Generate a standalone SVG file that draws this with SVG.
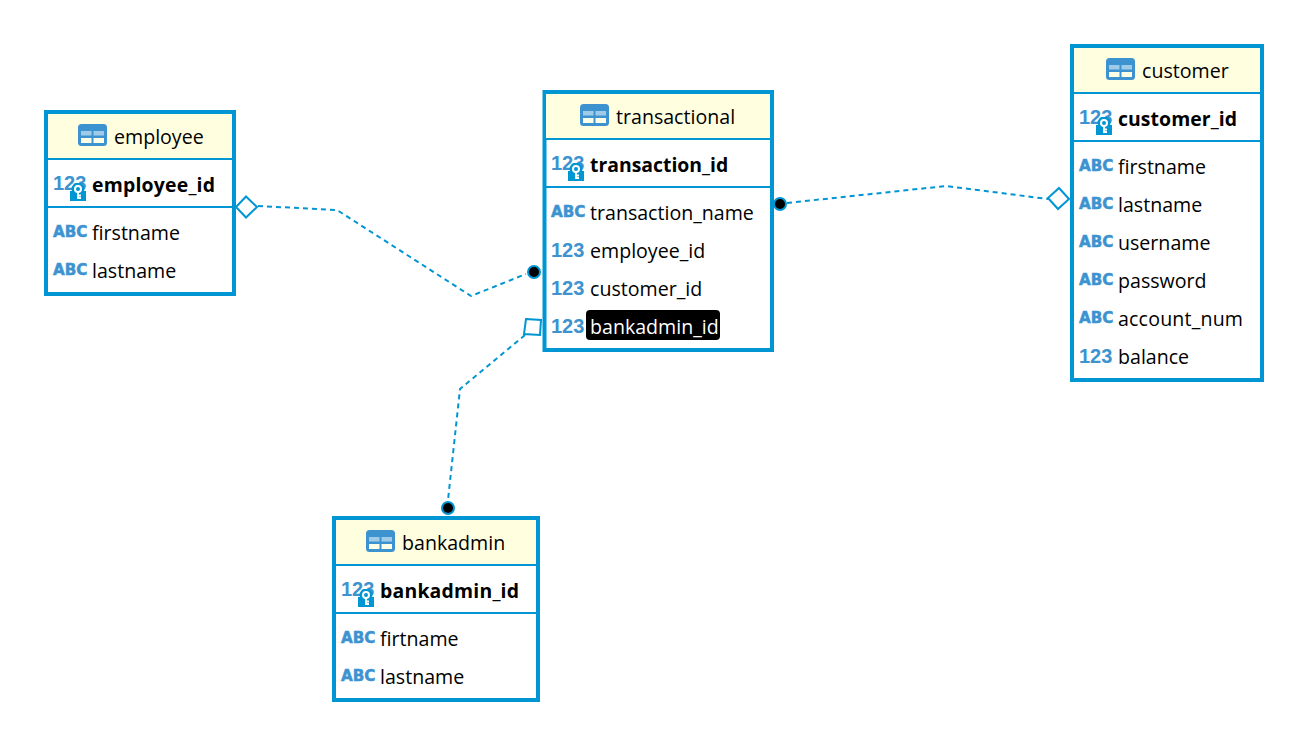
<svg xmlns="http://www.w3.org/2000/svg" xmlns:xlink="http://www.w3.org/1999/xlink" width="1300" height="738" viewBox="0 0 1300 738">
<style>
text{font-family:"Open Sans","Noto Sans","Liberation Sans",sans-serif;font-size:19.6px;fill:#000}
.box{fill:#fff;stroke:#0095d3;stroke-width:4}
.hd{fill:#ffffe0}
.div{stroke:#0095d3;stroke-width:2;fill:none}
text.pk{font-weight:700;font-size:19.4px}
text.ty{font-family:"Liberation Sans",sans-serif;font-weight:700;font-size:20px;fill:#3d92d0}
text.abc{font-family:"DejaVu Sans",sans-serif;font-weight:700;font-size:15.200px;fill:#3d92d0;stroke:#3d92d0;stroke-width:.5}
.conn{fill:none;stroke:#0095d3;stroke-width:2;stroke-dasharray:5 4}
.end{fill:#fff;stroke:#0095d3;stroke-width:2}
.dot{fill:#000;stroke:#0095d3;stroke-width:2}
</style>
<defs>
<symbol id="tbl" viewBox="0 0 29 22" width="29" height="22">
<rect width="29" height="22" rx="3.500" fill="#3d92d0"/>
<rect x="3" y="7" width="10.500" height="4.500" fill="#9fcbe8"/><rect x="15.500" y="7" width="10.500" height="4.500" fill="#9fcbe8"/>
<rect x="3" y="14" width="10.500" height="5" fill="#ffffe8"/><rect x="15.500" y="14" width="10.500" height="5" fill="#ffffe8"/>
</symbol>
<symbol id="key" viewBox="0 0 16 18" width="16" height="18">
<circle cx="8" cy="6" r="6.500" fill="#0095d3"/>
<rect y="8" width="16" height="10" fill="#0095d3"/>
<circle cx="8" cy="6" r="3" fill="none" stroke="#fff" stroke-width="2"/>
<path d="M8 9v7M8 12.500h3M8 15h3" stroke="#fff" stroke-width="1.800" fill="none"/>
</symbol>
</defs>

<g id="connectors">
<polyline class="conn" points="258,206 337,210 471,296 526,274"/>
<polyline class="conn" points="787,203 946,186 1048,199"/>
<polyline class="conn" points="525,335 460,389 448,500"/>
<path class="end" d="M246,196.500L257,207L246,217.500L236,207Z"/>
<circle class="dot" cx="534" cy="272" r="6"/>
<path class="end" d="M526,319L541,320L540,335L524,334Z"/>
<circle class="dot" cx="780" cy="204" r="6"/>
<path class="end" d="M1059,188L1069,199L1058,209L1048,198Z"/>
<circle class="dot" cx="448" cy="508" r="6"/>
</g>

<g id="employee">
<rect class="box" x="46" y="112" width="188" height="182"/>
<rect class="hd" x="48" y="114" width="184" height="44"/>
<path class="div" d="M47 159H233M47 207H233"/>
<use href="#tbl" x="78" y="124"/>
<text x="114" y="144">employee</text>
<text class="ty" x="53" y="190">123</text><use href="#key" x="70" y="183"/>
<text class="pk" x="92" y="192" textLength="123">employee_id</text>
<text class="abc" x="53" y="237">ABC</text><text x="92" y="240">firstname</text>
<text class="abc" x="53" y="275">ABC</text><text x="92" y="278">lastname</text>
</g>

<g id="transactional">
<rect class="box" x="544.500" y="92" width="227.500" height="258"/>
<rect class="hd" x="546" y="94" width="224" height="44"/>
<path class="div" d="M545 139H771M545 187H771"/>
<use href="#tbl" x="580" y="104"/>
<text x="616" y="124">transactional</text>
<text class="ty" x="551" y="170">123</text><use href="#key" x="568" y="163"/>
<text class="pk" x="590" y="172">transaction_id</text>
<text class="abc" x="551" y="217">ABC</text><text x="590" y="220">transaction_name</text>
<text class="ty" x="551" y="257">123</text><text x="590" y="258">employee_id</text>
<text class="ty" x="551" y="295">123</text><text x="590" y="296">customer_id</text>
<text class="ty" x="551" y="333">123</text>
<rect x="586" y="310" width="134" height="30" rx="4" fill="#000"/>
<text x="590" y="334" style="fill:#fff">bankadmin_id</text>
</g>

<g id="customer">
<rect class="box" x="1072" y="46" width="190" height="334"/>
<rect class="hd" x="1074" y="48" width="186" height="44"/>
<path class="div" d="M1073 93H1261M1073 141H1261"/>
<use href="#tbl" x="1106" y="58"/>
<text x="1142" y="78">customer</text>
<text class="ty" x="1079" y="124">123</text><use href="#key" x="1096" y="117"/>
<text class="pk" x="1118" y="126" textLength="119">customer_id</text>
<text class="abc" x="1079" y="171">ABC</text><text x="1118" y="174">firstname</text>
<text class="abc" x="1079" y="209">ABC</text><text x="1118" y="212">lastname</text>
<text class="abc" x="1079" y="247">ABC</text><text x="1118" y="250">username</text>
<text class="abc" x="1079" y="285">ABC</text><text x="1118" y="288">password</text>
<text class="abc" x="1079" y="323">ABC</text><text x="1118" y="326" textLength="125">account_num</text>
<text class="ty" x="1079" y="363">123</text><text x="1118" y="364">balance</text>
</g>

<g id="bankadmin">
<rect class="box" x="334" y="518" width="204" height="182"/>
<rect class="hd" x="336" y="520" width="200" height="44"/>
<path class="div" d="M335 565H537M335 613H537"/>
<use href="#tbl" x="366" y="530"/>
<text x="402" y="550">bankadmin</text>
<text class="ty" x="341" y="596">123</text><use href="#key" x="358" y="589"/>
<text class="pk" x="380" y="598" textLength="139">bankadmin_id</text>
<text class="abc" x="341" y="643">ABC</text><text x="380" y="646">firtname</text>
<text class="abc" x="341" y="681">ABC</text><text x="380" y="684">lastname</text>
</g>
</svg>
